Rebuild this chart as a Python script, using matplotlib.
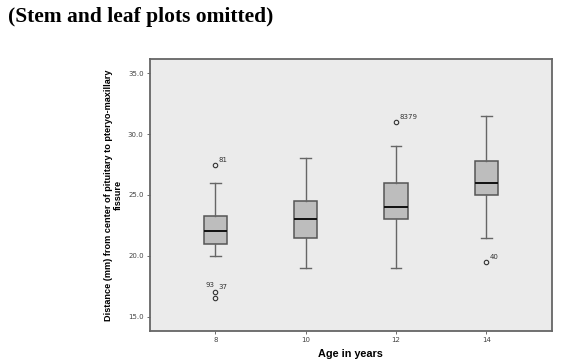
import matplotlib
matplotlib.use("Agg")
import matplotlib.pyplot as plt

# ─── data ───
ages = [8, 10, 12, 14]
q1 = [21.0, 21.5, 23.0, 25.0]
med = [22.0, 23.0, 24.0, 26.0]
q3 = [23.3, 24.5, 26.0, 27.8]
wlo = [20.0, 19.0, 19.0, 21.5]
whi = [26.0, 28.0, 29.0, 31.5]
outliers = [[27.5, 17.0, 16.5], [], [31.0], [19.5]]
outlier_ids = [["81", "37", ""], [], ["8379"], ["40"]]
yticks = [15.0, 20.0, 25.0, 30.0, 35.0]

fig = plt.figure(figsize=(5.7, 3.6), dpi=100)
fig.text(0.014, 0.953, "(Stem and leaf plots omitted)", family="Liberation Serif",
         fontweight="bold", fontsize=15.5, va="center", ha="left")

ax = fig.add_axes([0.263, 0.081, 0.705, 0.755])
ax.set_facecolor("#ebebeb")

stats = []
for i in range(len(ages)):
    stats.append(dict(med=med[i], q1=q1[i], q3=q3[i], whislo=wlo[i], whishi=whi[i],
                      fliers=outliers[i]))

ax.bxp(stats, positions=ages, widths=0.52, patch_artist=True,
       boxprops=dict(facecolor="#bdbdbd", edgecolor="#555555", linewidth=1.1),
       medianprops=dict(color="#111111", linewidth=1.4),
       whiskerprops=dict(color="#666666", linewidth=1.0),
       capprops=dict(color="#666666", linewidth=1.0),
       capwidths=0.24,
       flierprops=dict(marker="o", markersize=3.2, markerfacecolor="none",
                       markeredgecolor="#333333", markeredgewidth=0.8))

# outlier case numbers
for x, ys, ids in zip(ages, outliers, outlier_ids):
    for y, lab in zip(ys, ids):
        if lab:
            ax.annotate(lab, (x, y), xytext=(2.5, 2), textcoords="offset points",
                        fontsize=5, color="#333333")
ax.annotate("93", (8, 17.0), xytext=(-7, 4), textcoords="offset points",
            fontsize=5, color="#333333")

ax.set_xlim(6.55, 15.45)
ax.set_ylim(13.83, 36.17)
ax.set_xticks(ages)
ax.set_xticklabels([str(a) for a in ages])
ax.set_yticks(yticks)
ax.set_yticklabels([f"{v:.1f}" for v in yticks])
ax.tick_params(axis="both", labelsize=5, labelcolor="#444444", color="#555555",
               length=2.5, width=0.6, pad=2)

for s in ax.spines.values():
    s.set_color("#666666")
    s.set_linewidth(1.3)

ax.set_xlabel("Age in years", fontsize=7.8, fontweight="bold",
              family="Liberation Sans", labelpad=4)
ax.set_ylabel("Distance (mm) from center of pituitary to pteryo-maxillary\nfissure",
              fontsize=6.6, fontweight="bold", family="Liberation Sans", labelpad=4,
              linespacing=1.0)

plt.savefig("out.png", dpi=100)
